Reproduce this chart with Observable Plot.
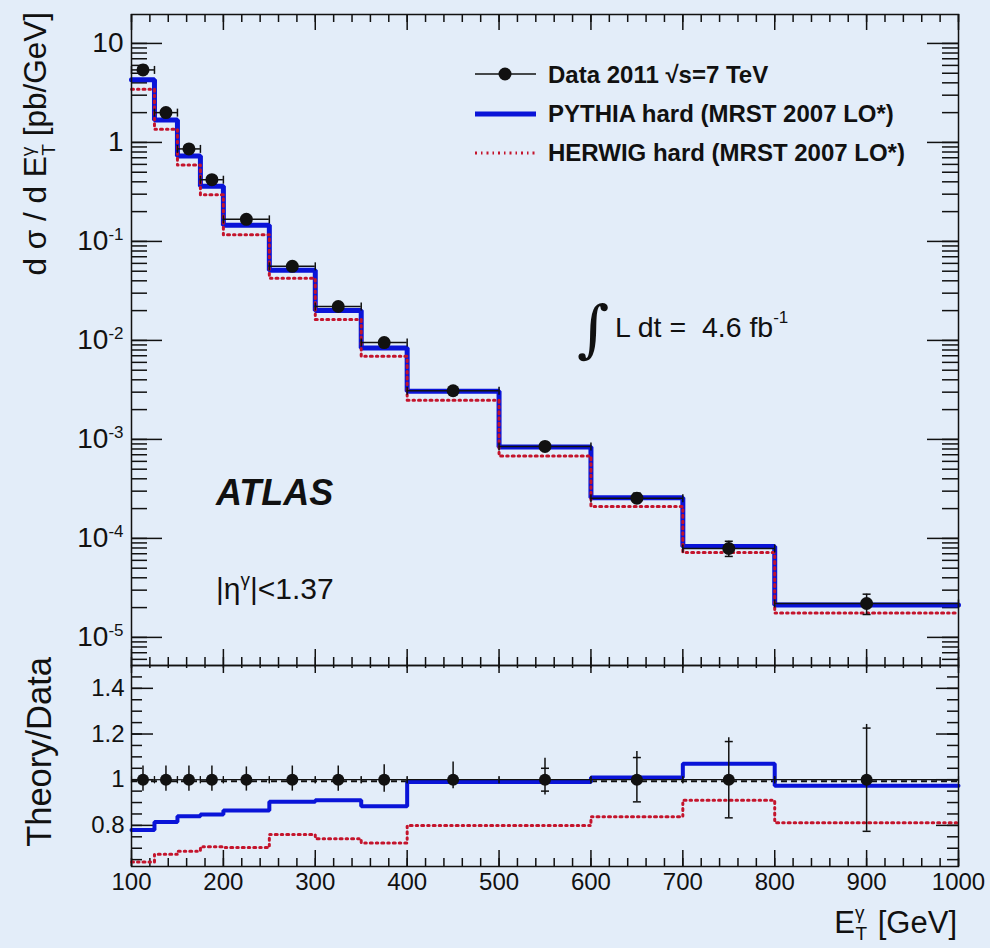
<!DOCTYPE html>
<html><head><meta charset="utf-8">
<script src="https://cdn.jsdelivr.net/npm/d3@7"></script>
<script src="https://cdn.jsdelivr.net/npm/@observablehq/plot@0.6"></script>
<style>
html,body{margin:0;padding:0;background:#e3edf9;}
#chart{position:relative;width:990px;height:948px;background:#e3edf9;overflow:hidden;font-family:"Liberation Sans",Arial,sans-serif;}
#chart > svg{position:absolute;left:0;}
</style></head><body><div id="chart"></div>
<script>
// ---- data ----
const etLo     = [100, 125, 150, 175, 200, 250, 300, 350, 400, 500, 600, 700, 800];
const etHi     = [125, 150, 175, 200, 250, 300, 350, 400, 500, 600, 700, 800, 1000];
const etCenter = [112.5, 137.5, 162.5, 187.5, 225, 275, 325, 375, 450, 550, 650, 750, 900];
const dataXsec   = [5.4, 2.0, 0.86, 0.42, 0.167, 0.056, 0.022, 0.0095, 0.0031, 8.5e-4, 2.55e-4, 7.9e-5, 2.2e-5];
const pythiaXsec = [4.3, 1.68, 0.73, 0.36, 0.146, 0.051, 0.020, 0.0084, 0.00307, 8.4e-4, 2.58e-4, 8.3e-5, 2.12e-5];
const herwigXsec = [3.45, 1.36, 0.59, 0.296, 0.117, 0.0425, 0.0163, 0.0069, 0.00249, 6.8e-4, 2.1e-4, 7.2e-5, 1.76e-5];
const pythiaRatio = [0.78, 0.815, 0.84, 0.848, 0.865, 0.904, 0.91, 0.884, 0.99, 0.99, 1.01, 1.07, 0.974];
const herwigRatio = [0.64, 0.674, 0.687, 0.706, 0.703, 0.76, 0.742, 0.723, 0.80, 0.80, 0.838, 0.91, 0.812];
const ratioErrUp   = [0.06, 0.06, 0.06, 0.06, 0.056, 0.06, 0.06, 0.065, 0.078, 0.094, 0.123, 0.184, 0.242];
const ratioErrDown = [0.05, 0.05, 0.05, 0.05, 0.05, 0.05, 0.05, 0.055, 0.04, 0.067, 0.096, 0.168, 0.226];
const ratioStat    = [0, 0, 0, 0, 0, 0, 0, 0, 0, 0.05, 0.097, 0.167, 0.226];

// tick values
const xMajor = [100, 200, 300, 400, 500, 600, 700, 800, 900, 1000];
const xMinor = d3.range(100, 1001, 20);
const topMajorY = [1e-5, 1e-4, 1e-3, 1e-2, 1e-1, 1, 10];
const topDomain = [5.2e-6, 19.6];
const topMinorY = d3.scaleLog().domain(topDomain).ticks();
const ratioMajorY = [0.8, 1, 1.2, 1.4];
const ratioMinorY = [0.65, 0.7, 0.75, 0.8, 0.85, 0.9, 0.95, 1, 1.05, 1.1, 1.15, 1.2, 1.25, 1.3, 1.35, 1.4, 1.45];

// ---- styling ----
const W = 990, ML = 131, MR = 32;
const FW = W - ML - MR;
const ink = "#111";
const blue = "#0a14d8";
const red = "#c4142c";
const dash = "2,4,1.5,4";
const fontFamily = '"Liberation Sans", Arial, sans-serif';

const vBar = {draw(ctx, size) { const r = Math.sqrt(size / Math.PI); ctx.moveTo(0, -r); ctx.lineTo(0, r); }};
const hBar = {draw(ctx, size) { const r = Math.sqrt(size / Math.PI); ctx.moveTo(-r, 0); ctx.lineTo(r, 0); }};

function steps(vals) {
  const pts = [];
  vals.forEach((v, i) => { pts.push({x: etLo[i], y: v}); pts.push({x: etHi[i], y: v}); });
  return pts;
}
const pts = etCenter.map((x, i) => ({
  x, lo: etLo[i], hi: etHi[i], v: dataXsec[i],
  vLo: dataXsec[i] * (1 - ratioErrDown[i]), vHi: dataXsec[i] * (1 + ratioErrUp[i]),
  r: 1, rLo: 1 - ratioErrDown[i], rHi: 1 + ratioErrUp[i], sLo: 1 - ratioStat[i], sHi: 1 + ratioStat[i], hasStat: ratioStat[i] > 0
}));
const statPts = pts.filter(d => d.hasStat);

function ticksFrame(FH, majY, minY, yMajLen, yMinLen, xTopMaj, xTopMin, xBotMaj, xBotMin) {
  const t = {stroke: ink, strokeWidth: 1.5};
  return [
    Plot.tickY(minY, {...t, insetRight: FW - yMinLen}),
    Plot.tickY(majY, {...t, insetRight: FW - yMajLen}),
    Plot.tickY(minY, {...t, insetLeft: FW - yMinLen}),
    Plot.tickY(majY, {...t, insetLeft: FW - yMajLen}),
    Plot.tickX(xMinor, {...t, insetBottom: FH - xTopMin}),
    Plot.tickX(xMajor, {...t, insetBottom: FH - xTopMaj}),
    Plot.tickX(xMinor, {...t, insetTop: FH - xBotMin}),
    Plot.tickX(xMajor, {...t, insetTop: FH - xBotMaj})
  ];
}

const fmtPow = d => d === 10 ? "10" : d === 1 ? "1" : "10^" + Math.round(Math.log10(d));

// ---- top panel ----
const topH = 666, topMT = 14, topMB = 1;
const topFH = topH - topMT - topMB;
const topPlot = Plot.plot({
  width: W, height: topH, marginLeft: ML, marginRight: MR, marginTop: topMT, marginBottom: topMB,
  x: {domain: [100, 1000], axis: null},
  y: {type: "log", domain: topDomain, axis: null},
  style: {background: "none", overflow: "visible", fontFamily, fontSize: "28px", color: ink},
  marks: [
    ...ticksFrame(topFH, topMajorY, topMinorY, 31, 16, 16, 8, 16, 8),
    Plot.line(steps(pythiaXsec), {x: "x", y: "y", stroke: blue, strokeWidth: 5, strokeLinejoin: "miter"}),
    Plot.line(steps(herwigXsec), {x: "x", y: "y", stroke: red, strokeWidth: 3, strokeDasharray: dash}),
    Plot.ruleY(pts, {y: "v", x1: "lo", x2: "hi", stroke: ink, strokeWidth: 1.5}),
    Plot.dot(pts, {x: "lo", y: "v", symbol: vBar, r: 4, stroke: ink, strokeWidth: 1.5}),
    Plot.dot(pts, {x: "hi", y: "v", symbol: vBar, r: 4, stroke: ink, strokeWidth: 1.5}),
    Plot.ruleX(pts, {x: "x", y1: "vLo", y2: "vHi", stroke: ink, strokeWidth: 1.5}),
    Plot.dot(pts, {x: "x", y: "vLo", symbol: hBar, r: 4, stroke: ink, strokeWidth: 1.5}),
    Plot.dot(pts, {x: "x", y: "vHi", symbol: hBar, r: 4, stroke: ink, strokeWidth: 1.5}),
    Plot.dot(pts, {x: "x", y: "v", r: 6.5, fill: ink, stroke: null}),
    Plot.axisY({ticks: topMajorY, tickSize: 0, tickPadding: 8, tickFormat: fmtPow, label: null}),
    Plot.frame({stroke: ink, strokeWidth: 1.5})
  ]
});
d3.select(topPlot).selectAll("text").each(function() {
  const s = this.textContent, k = s.indexOf("^");
  if (k < 0) return;
  const sel = d3.select(this);
  sel.text(null);
  sel.append("tspan").text(s.slice(0, k));
  sel.append("tspan").attr("dy", -10).attr("font-size", 17).text(s.slice(k + 1));
});

// ---- ratio panel ----
const botTop = 664, botH = 948 - botTop, botMT = 1, botMB = 82;
const botFH = botH - botMT - botMB;
const botPlot = Plot.plot({
  width: W, height: botH, marginLeft: ML, marginRight: MR, marginTop: botMT, marginBottom: botMB,
  x: {domain: [100, 1000], axis: null},
  y: {domain: [0.62, 1.5], axis: null},
  style: {background: "none", overflow: "visible", fontFamily, fontSize: "24px", color: ink},
  marks: [
    ...ticksFrame(botFH, ratioMajorY, ratioMinorY, 22, 11, 8, 3, 16, 8),
    Plot.ruleY([1], {stroke: ink, strokeWidth: 2, strokeDasharray: "6,4", dy: 1.5}),
    Plot.line(steps(pythiaRatio), {x: "x", y: "y", stroke: blue, strokeWidth: 4, strokeLinejoin: "miter"}),
    Plot.line(steps(herwigRatio), {x: "x", y: "y", stroke: red, strokeWidth: 3, strokeDasharray: dash}),
    Plot.ruleY(pts, {y: "r", x1: "lo", x2: "hi", stroke: ink, strokeWidth: 1.2}),
    Plot.dot(pts, {x: "lo", y: "r", symbol: vBar, r: 3.5, stroke: ink, strokeWidth: 1.2}),
    Plot.dot(pts, {x: "hi", y: "r", symbol: vBar, r: 3.5, stroke: ink, strokeWidth: 1.2}),
    Plot.ruleX(pts, {x: "x", y1: "rLo", y2: "rHi", stroke: ink, strokeWidth: 1.5}),
    Plot.dot(statPts, {x: "x", y: "sLo", symbol: hBar, r: 4, stroke: ink, strokeWidth: 1.5}),
    Plot.dot(statPts, {x: "x", y: "sHi", symbol: hBar, r: 4, stroke: ink, strokeWidth: 1.5}),
    Plot.dot(pts, {x: "x", y: "r", r: 6, fill: ink, stroke: null}),
    Plot.axisY({ticks: ratioMajorY, tickSize: 0, tickPadding: 7, tickFormat: d => String(d), label: null}),
    Plot.axisX({ticks: xMajor, tickSize: 0, tickPadding: 6, tickFormat: d => String(d), label: null}),
    Plot.frame({stroke: ink, strokeWidth: 1.5})
  ]
});

const chart = document.getElementById("chart");
topPlot.style.top = "0px";
botPlot.style.top = botTop + "px";
chart.appendChild(topPlot);
chart.appendChild(botPlot);

// ---- titles, legend and annotations ----
const ov = d3.create("svg").attr("width", 990).attr("height", 948)
  .style("position", "absolute").style("left", "0px").style("top", "0px")
  .attr("font-family", fontFamily).attr("fill", ink);
ov.node().innerHTML = `
<text transform="translate(46,12) rotate(-90)" text-anchor="end" font-size="31.5">d σ / d E<tspan dy="-12" font-size="19">γ</tspan><tspan dx="-9" dy="21" font-size="19">T</tspan><tspan dy="-9" dx="-1"> [pb/GeV]</tspan></text>
<text transform="translate(51,657) rotate(-90)" text-anchor="end" font-size="34.5">Theory/Data</text>
<text x="957" y="933" text-anchor="end" font-size="31" style="white-space:pre">E<tspan dy="-14" font-size="19">γ</tspan><tspan dx="-9" dy="21" font-size="19">T</tspan><tspan dy="-7" dx="2"> [GeV]</tspan></text>
<text x="216" y="505" font-size="36" font-weight="bold" font-style="italic">ATLAS</text>
<text x="216" y="599" font-size="30">|η<tspan dy="-13" font-size="19">γ</tspan><tspan dy="13">|&lt;1.37</tspan></text>
<text x="577" y="350" font-size="62" font-family="DejaVu Serif, Liberation Serif, serif">∫</text>
<text x="615" y="337" font-size="28.5" style="white-space:pre">L dt =  4.6 fb<tspan dy="-14" font-size="17">-1</tspan></text>
<line x1="475" x2="536" y1="74" y2="74" stroke="${ink}" stroke-width="1.5"/>
<circle cx="505" cy="74" r="6.5" fill="${ink}"/>
<line x1="475" x2="536" y1="114" y2="114" stroke="${blue}" stroke-width="5"/>
<line x1="475" x2="536" y1="153" y2="153" stroke="${red}" stroke-width="3" stroke-dasharray="${dash}"/>
<text x="548" y="83" font-size="24" font-weight="bold">Data 2011 √s=7 TeV</text>
<text x="548" y="122" font-size="24" font-weight="bold">PYTHIA hard (MRST 2007 LO*)</text>
<text x="548" y="160.5" font-size="24" font-weight="bold">HERWIG hard (MRST 2007 LO*)</text>
`;
chart.appendChild(ov.node());
</script></body></html>
